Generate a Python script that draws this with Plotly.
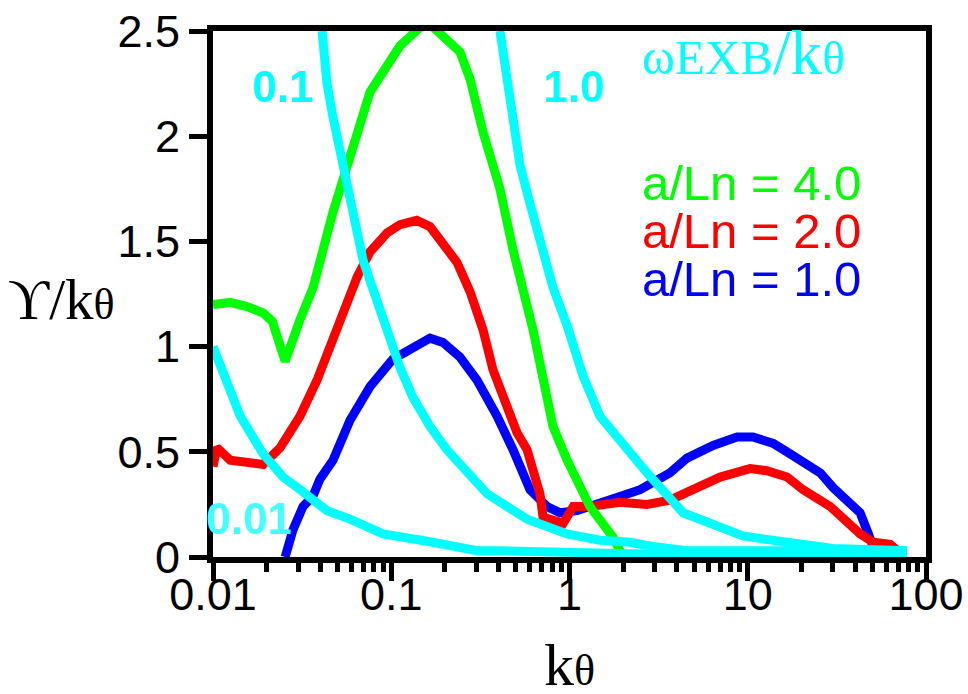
import plotly.graph_objects as go

# ---------------- data ----------------
k_green = [0.0100, 0.0125, 0.0155, 0.0191, 0.0215, 0.0254, 0.0308, 0.0364, 0.0471, 0.0643,
           0.0760, 0.112, 0.151, 0.160, 0.171, 0.243, 0.277, 0.327, 0.407, 0.482, 0.624,
           0.808, 0.969, 1.30, 1.75, 2.0]
g_green = [1.20, 1.21, 1.19, 1.16, 1.12, 0.93, 1.13, 1.28, 1.64, 2.02,
           2.21, 2.43, 2.52, 2.55, 2.52, 2.40, 2.27, 2.02, 1.75, 1.46, 1.08,
           0.62, 0.46, 0.24, 0.095, 0.0]

k_red = [0.0100, 0.0105, 0.0125, 0.0155, 0.0191, 0.0238, 0.0308, 0.0383, 0.0453, 0.0496,
         0.0643, 0.0760, 0.0947, 0.112, 0.139, 0.165, 0.195, 0.234, 0.277, 0.327,
         0.372, 0.446, 0.508, 0.578, 0.624, 0.683, 0.710, 0.808, 0.920, 1.05,
         1.30, 1.92, 2.72, 3.66, 5.40, 7.00, 10.3, 12.8, 16.6, 20.4,
         29.0, 36.1, 42.7, 50.5, 62.8, 71.5]
g_red = [0.43, 0.52, 0.46, 0.45, 0.44, 0.52, 0.67, 0.84, 1.00, 1.08,
         1.33, 1.45, 1.54, 1.58, 1.60, 1.57, 1.49, 1.40, 1.26, 1.08,
         0.89, 0.71, 0.59, 0.51, 0.41, 0.30, 0.19, 0.18, 0.16, 0.24,
         0.24, 0.26, 0.25, 0.27, 0.33, 0.38, 0.42, 0.41, 0.38, 0.32,
         0.24, 0.16, 0.11, 0.07, 0.06, 0.02]

k_blue = [0.0254, 0.0281, 0.0320, 0.0364, 0.0398, 0.0471, 0.0587, 0.0760, 0.102, 0.123,
          0.165, 0.195, 0.243, 0.303, 0.392, 0.482, 0.600, 0.748, 0.885, 1.10,
          1.85, 2.49, 3.66, 4.56, 6.39, 8.71, 10.7, 13.9, 17.3, 20.4,
          25.5, 30.1, 36.1, 42.7, 47.0, 50.5, 55.0]
g_blue = [0.0, 0.13, 0.24, 0.29, 0.37, 0.46, 0.65, 0.81, 0.94, 0.98,
          1.04, 1.02, 0.95, 0.84, 0.67, 0.51, 0.32, 0.24, 0.21, 0.22,
          0.285, 0.32, 0.40, 0.47, 0.53, 0.57, 0.57, 0.54, 0.49, 0.45,
          0.40, 0.33, 0.26, 0.21, 0.12, 0.05, 0.03]

k_c001 = [0.0100, 0.0120, 0.0142, 0.0191, 0.0247, 0.0308, 0.0436, 0.0587, 0.0899, 0.171,
          0.303, 0.407, 0.969, 2.18, 10.0, 78.2]
w_c001 = [1.00, 0.83, 0.67, 0.49, 0.38, 0.32, 0.22, 0.18, 0.11, 0.07,
          0.03, 0.03, 0.02, 0.015, 0.01, 0.01]

k_c01 = [0.0409, 0.0436, 0.0471, 0.0536, 0.0610, 0.0695, 0.0791, 0.0947, 0.112, 0.132,
         0.165, 0.205, 0.253, 0.345, 0.578, 0.969, 1.48, 2.18, 2.94, 4.56, 10.3, 40.0, 78.2]
w_c01 = [2.50, 2.25, 2.09, 1.86, 1.62, 1.41, 1.27, 1.08, 0.90, 0.76,
         0.62, 0.51, 0.43, 0.30, 0.18, 0.11, 0.08, 0.07, 0.05, 0.03, 0.03, 0.03, 0.03]

k_c1 = [0.407, 0.446, 0.482, 0.528, 0.600, 0.683, 0.808, 0.969, 1.19, 1.48,
        1.92, 2.72, 4.34, 6.39, 9.40, 16.6, 30.1, 78.2]
w_c1 = [2.50, 2.25, 2.06, 1.86, 1.68, 1.51, 1.28, 1.10, 0.86, 0.67,
        0.55, 0.40, 0.21, 0.15, 0.10, 0.07, 0.04, 0.03]

x_tickvals = [0.01, 0.1, 1, 10, 100]
x_ticktext = ["0.01", "0.1", "1", "10", "100"]
y_tickvals = [0, 0.5, 1, 1.5, 2, 2.5]
y_ticktext = ["0", "0.5", "1", "1.5", "2", "2.5"]

GREEN = "#00FF00"
RED = "#FF0000"
BLUE = "#0000FF"
CYAN = "#00FFFF"
LW = 9
SANS = "Liberation Sans, Arial, sans-serif"
SERIF = "Liberation Serif, Times New Roman, serif"

fig = go.Figure()
for k, g, c, n in [(k_blue, g_blue, BLUE, "a/Ln = 1.0"),
                   (k_red, g_red, RED, "a/Ln = 2.0"),
                   (k_green, g_green, GREEN, "a/Ln = 4.0"),
                   (k_c001, w_c001, CYAN, "0.01"),
                   (k_c01, w_c01, CYAN, "0.1"),
                   (k_c1, w_c1, CYAN, "1.0")]:
    fig.add_trace(go.Scatter(x=k, y=g, mode="lines", name=n,
                             line=dict(color=c, width=LW), showlegend=False))

axis_common = dict(showline=True, linecolor="black", linewidth=6, mirror=True,
                   ticks="outside", tickwidth=5, tickcolor="black", ticklen=18,
                   showgrid=False, zeroline=False, layer="below traces",
                   automargin=False,
                   tickfont=dict(family=SANS, size=45, color="black"))

fig.update_xaxes(type="log", range=[-2, 2], tickmode="array",
                 tickvals=x_tickvals, ticktext=x_ticktext,
                 ticklabelstandoff=-25,
                 minor=dict(ticks="outside", ticklen=9, tickwidth=5, tickcolor="black",
                            dtick="D1", showgrid=False),
                 **axis_common)
fig.update_yaxes(range=[0, 2.5], tickmode="array",
                 tickvals=y_tickvals, ticktext=y_ticktext, **axis_common)

ann = []
# axis titles
ann.append(dict(text="k<span style='font-size:44px'>θ</span>", x=0.5, y=-0.205,
                xref="paper", yref="paper", xanchor="center", yanchor="middle",
                showarrow=False, font=dict(family=SERIF, size=60, color="black")))
ann.append(dict(text="ϒ/k<span style='font-size:44px'>θ</span>", x=-0.29, y=0.489,
                xref="paper", yref="paper", xanchor="left", yanchor="middle",
                showarrow=False, font=dict(family=SERIF, size=57, color="black")))
# omega label
ann.append(dict(text="<span style='font-size:50px'>ω</span><span style='font-size:49px'>EXB</span>/k<span style='font-size:47px'>θ</span>",
                x=0.599, y=0.958, xref="paper", yref="paper", xanchor="left", yanchor="middle",
                showarrow=False, font=dict(family=SERIF, size=63, color=CYAN)))
# legend texts
for txt, col, yy in [("a/Ln = 4.0", GREEN, 0.711), ("a/Ln = 2.0", RED, 0.620), ("a/Ln = 1.0", BLUE, 0.528)]:
    ann.append(dict(text=txt, x=0.599, y=yy, xref="paper", yref="paper",
                    xanchor="left", yanchor="middle", showarrow=False,
                    font=dict(family=SANS, size=49, color=col)))
# curve labels
for txt, xx, yy, col in [("0.1", 0.098, 0.895, CYAN), ("1.0", 0.506, 0.895, CYAN), ("0.01", 0.0498, 0.0733, "#44FFFF")]:
    ann.append(dict(text="<b>" + txt + "</b>", x=xx, y=yy, xref="paper", yref="paper",
                    xanchor="center", yanchor="middle", showarrow=False,
                    font=dict(family=SANS, size=44, color=col)))

fig.update_layout(width=968, height=694, margin=dict(l=213, r=42, t=31, b=137),
                  paper_bgcolor="white", plot_bgcolor="white", annotations=ann,
                  showlegend=False)

fig.write_html("out.html")
